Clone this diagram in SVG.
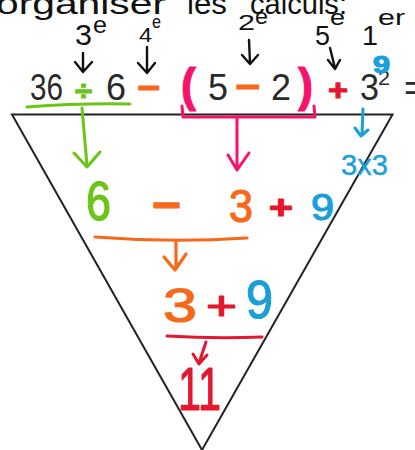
<svg xmlns="http://www.w3.org/2000/svg" width="415" height="450" viewBox="0 0 415 450">
<style>
text{font-family:"Liberation Sans",Arial,sans-serif}
.pen{fill:none;stroke-linecap:round;stroke-linejoin:round}
.k{stroke:#111;stroke-width:2.4}
.g{stroke:#6cc417;stroke-width:3}
.o{stroke:#f7691a;stroke-width:3.2}
.p{stroke:#f5136b;stroke-width:3}
.r{stroke:#e5172f;stroke-width:3}
.c{stroke:#1a9fd9;stroke-width:3}
.tk{fill:#111}
.dig{fill:#2a2a2a;font-size:37px}
.hg{fill:#6cc417;stroke:#6cc417}
.ho{fill:#f7691a;stroke:#f7691a}
.hp{fill:#f5136b;stroke:#f5136b}
.hr{fill:#e5172f;stroke:#e5172f}
.hc{fill:#1a9fd9;stroke:#1a9fd9}
.hw{stroke-width:1.2;stroke-linejoin:round}
.hl{stroke-width:0.4;stroke-linejoin:round}
</style>
<rect width="415" height="450" fill="#fff"/>
<g id="heading">
<text x="-4" y="14" font-size="30" textLength="170" lengthAdjust="spacingAndGlyphs" class="tk">organiser</text>
<text x="187" y="14" font-size="30" textLength="40" lengthAdjust="spacingAndGlyphs" class="tk">les</text>
<text x="250" y="14" font-size="30" textLength="97" lengthAdjust="spacingAndGlyphs" class="tk">calculs:</text>
</g>
<g id="triangle">
<path d="M12,114.5 L392.5,114.5 L202,450 Z" fill="none" stroke="#222" stroke-width="2"/>
</g>
<g id="order-labels">
<text x="75" y="45" font-size="30" textLength="17" lengthAdjust="spacingAndGlyphs" class="tk">3</text>
<text x="93" y="33" font-size="24" textLength="14" lengthAdjust="spacingAndGlyphs" class="tk">e</text>
<text x="139" y="42" font-size="20" textLength="13" lengthAdjust="spacingAndGlyphs" class="tk">4</text>
<text x="152" y="28" font-size="18" textLength="9" lengthAdjust="spacingAndGlyphs" class="tk">e</text>
<text x="238" y="30" font-size="22" textLength="17" lengthAdjust="spacingAndGlyphs" class="tk">2</text>
<text x="255" y="24" font-size="22" textLength="13" lengthAdjust="spacingAndGlyphs" class="tk">e</text>
<text x="315" y="45" font-size="28" textLength="15" lengthAdjust="spacingAndGlyphs" class="tk">5</text>
<text x="330" y="25" font-size="22" textLength="15" lengthAdjust="spacingAndGlyphs" class="tk">e</text>
<text x="362" y="45" font-size="28" textLength="16" lengthAdjust="spacingAndGlyphs" class="tk">1</text>
<text x="378" y="25" font-size="22" textLength="27" lengthAdjust="spacingAndGlyphs" class="tk">er</text>
</g>
<g id="expression">
<text x="30" y="100" class="dig" textLength="33" lengthAdjust="spacingAndGlyphs">36</text>
<text x="75" y="100" font-size="28" font-weight="bold" class="hg hw" textLength="17" lengthAdjust="spacingAndGlyphs">÷</text>
<text x="106" y="100" class="dig" textLength="20" lengthAdjust="spacingAndGlyphs">6</text>
<text x="137" y="100" font-size="36" font-weight="bold" class="ho hw" textLength="23" lengthAdjust="spacingAndGlyphs">−</text>
<text x="181" y="101" font-size="46" font-weight="bold" class="hp hw" textLength="15" lengthAdjust="spacingAndGlyphs">(</text>
<text x="208" y="100" class="dig" textLength="20" lengthAdjust="spacingAndGlyphs">5</text>
<text x="235" y="99" font-size="36" font-weight="bold" class="ho hw" textLength="25" lengthAdjust="spacingAndGlyphs">−</text>
<text x="271" y="100" class="dig" textLength="20" lengthAdjust="spacingAndGlyphs">2</text>
<text x="298" y="101" font-size="46" font-weight="bold" class="hp hw" textLength="15" lengthAdjust="spacingAndGlyphs">)</text>
<text x="328" y="100" font-size="30" font-weight="bold" class="hr hw" textLength="20" lengthAdjust="spacingAndGlyphs">+</text>
<text x="360" y="100" class="dig" textLength="19" lengthAdjust="spacingAndGlyphs">3</text>
<text x="378" y="85" font-size="20" fill="#2a2a2a" textLength="12" lengthAdjust="spacingAndGlyphs">2</text>
<text x="373" y="73" font-size="24" font-weight="bold" class="hc hw" textLength="17" lengthAdjust="spacingAndGlyphs">9</text>
<text x="404" y="100" font-size="37" fill="#2a2a2a">=</text>
</g>
<g id="step1">
<text x="86" y="220" font-size="55" class="hg hw" textLength="25" lengthAdjust="spacingAndGlyphs">6</text>
<text x="152" y="220" font-size="44" font-weight="bold" class="ho hw" textLength="29" lengthAdjust="spacingAndGlyphs">−</text>
<text x="229" y="222" font-size="46" class="ho hw" textLength="24" lengthAdjust="spacingAndGlyphs">3</text>
<text x="269" y="219" font-size="34" font-weight="bold" class="hr hw" textLength="24" lengthAdjust="spacingAndGlyphs">+</text>
<text x="311" y="220" font-size="36" class="hc hw" textLength="23" lengthAdjust="spacingAndGlyphs">9</text>
<text x="341" y="175" font-size="30" class="hc hl" textLength="47" lengthAdjust="spacingAndGlyphs">3x3</text>
</g>
<g id="step2">
<text x="163" y="322" font-size="48" class="ho hw" textLength="34" lengthAdjust="spacingAndGlyphs">3</text>
<text x="206" y="320" font-size="40" class="hr hw" textLength="31" lengthAdjust="spacingAndGlyphs">+</text>
<text x="246" y="318" font-size="54" class="hc hw" textLength="27" lengthAdjust="spacingAndGlyphs">9</text>
</g>
<g id="result">
<text x="178" y="410" font-size="62" class="hr hw" textLength="43" lengthAdjust="spacingAndGlyphs">11</text>
</g>
<g id="connectors">
<path class="pen k" d="M83,53 L83,71 M75,62 L83,72 L92,62"/>
<path class="pen k" d="M147,47 L147,72 M138,63 L147,73 L155,63"/>
<path class="pen k" d="M249,40 L250,63 M242,55 L250,64 L258,55"/>
<path class="pen k" d="M330,48 L335,68 M328,60 L335,69 L340,60"/>
<path class="pen g" d="M27,107 Q80,103 130,104 M82,108 L87,165 M74,153 L87,167 L100,152"/>
<path class="pen p" d="M182,106 L183,117 L315,117 L314,106 M237,118 L237,168 M228,155 L237,170 L249,153"/>
<path class="pen c" d="M363,109 L362,135 M355,128 L361,136 L368,130"/>
<path class="pen o" d="M95,237 Q170,243 247,238 M176,240 L176,268 M164,257 L175,270 L186,254"/>
<path class="pen r" d="M167,336 Q215,339 262,337 M206,342 L199,363 M193,354 L199,364 L207,355"/>
</g>
</svg>
